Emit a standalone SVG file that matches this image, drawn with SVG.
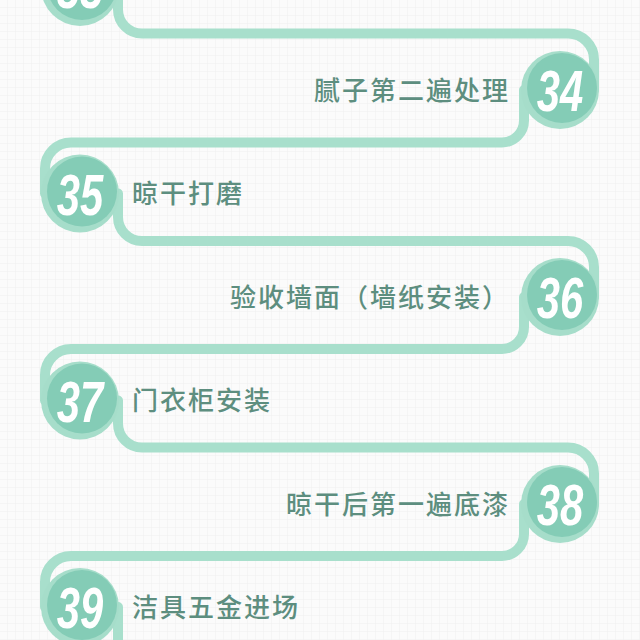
<svg xmlns="http://www.w3.org/2000/svg" width="640" height="640" viewBox="0 0 640 640">
  <defs>
    <pattern id="grid" width="8" height="8" patternUnits="userSpaceOnUse">
      <rect width="8" height="8" fill="#fbfbfb"/>
      <path d="M8 0V8M0 8H8" fill="none" stroke="#efefef" stroke-width="1"/>
    </pattern>
    <style>
      .band{fill:none;stroke:#a8dfcc;stroke-width:10;stroke-linejoin:round}
      .ring{fill:#a6ddca}
      .disc{fill:#84ccb6}
      .num{font-family:"Liberation Sans",Arial,sans-serif;font-weight:bold;font-style:italic;font-size:58px;fill:#ffffff;text-anchor:middle}
      .lbl{font-family:"Noto Sans CJK SC","Noto Sans",sans-serif;font-weight:500;font-size:26px;letter-spacing:2px;fill:#5d8e7f}
      .r{text-anchor:end}
      .l{text-anchor:start}
    </style>
  </defs>
  <rect width="640" height="640" fill="url(#grid)"/>

  <g id="connectors">
    <path class="band" d="M118,-30 V9.5 A24,24 0 0 0 142,33.5 H568 A26,26 0 0 1 594,59.5 V90 H524 V120.5 A22,22 0 0 1 502,142.5 H71 A26,26 0 0 0 45,168.5 V193.5 H118 V217 A24,24 0 0 0 142,241 H568 A26,26 0 0 1 594,267 V297 H524 V327 A22,22 0 0 1 502,349 H71 A26,26 0 0 0 45,375 V400.5 H118 V423.5 A24,24 0 0 0 142,447.5 H568 A26,26 0 0 1 594,473.5 V504 H524 V534 A22,22 0 0 1 502,556 H71 A26,26 0 0 0 45,582 V607 H118 V660"/>
  </g>

  <g id="step-33">
    <circle class="ring" cx="80" cy="-13" r="39"/>
    <circle class="disc" cx="82" cy="-15" r="35"/>
    <text class="num" transform="translate(80,8) scale(0.72,1)">33</text>
  </g>

  <g id="step-34">
    <circle class="ring" cx="560" cy="90" r="39"/>
    <circle class="disc" cx="562" cy="88" r="35"/>
    <text class="num" transform="translate(560,111) scale(0.72,1)">34</text>
    <text class="lbl r" x="510" y="99.5">腻子第二遍处理</text>
  </g>

  <g id="step-35">
    <circle class="ring" cx="80" cy="193.5" r="39"/>
    <circle class="disc" cx="82" cy="191.5" r="35"/>
    <text class="num" transform="translate(80,214.5) scale(0.72,1)">35</text>
    <text class="lbl l" x="132" y="203">晾干打磨</text>
  </g>

  <g id="step-36">
    <circle class="ring" cx="560" cy="297" r="39"/>
    <circle class="disc" cx="562" cy="295" r="35"/>
    <text class="num" transform="translate(560,318) scale(0.72,1)">36</text>
    <text class="lbl r" x="510" y="306.5">验收墙面（墙纸安装）</text>
  </g>

  <g id="step-37">
    <circle class="ring" cx="80" cy="400.5" r="39"/>
    <circle class="disc" cx="82" cy="398.5" r="35"/>
    <text class="num" transform="translate(80,421.5) scale(0.72,1)">37</text>
    <text class="lbl l" x="132" y="410">门衣柜安装</text>
  </g>

  <g id="step-38">
    <circle class="ring" cx="560" cy="504" r="39"/>
    <circle class="disc" cx="562" cy="502" r="35"/>
    <text class="num" transform="translate(560,525) scale(0.72,1)">38</text>
    <text class="lbl r" x="510" y="513.5">晾干后第一遍底漆</text>
  </g>

  <g id="step-39">
    <circle class="ring" cx="80" cy="607" r="39"/>
    <circle class="disc" cx="82" cy="605" r="35"/>
    <text class="num" transform="translate(80,628) scale(0.72,1)">39</text>
    <text class="lbl l" x="132" y="616.5">洁具五金进场</text>
  </g>
</svg>
